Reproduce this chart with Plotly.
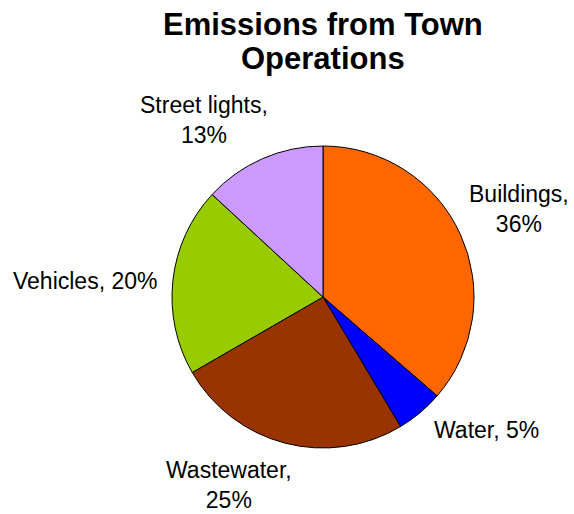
import plotly.graph_objects as go

# Share of emissions by source (percent)
categories = ["Buildings", "Water", "Wastewater", "Vehicles", "Street lights"]
shares = [36, 5, 25, 20, 13]
colors = ["#FF6600", "#0000FF", "#993300", "#99CC00", "#CC99FF"]
# two-line labels break after the comma
two_line = [True, False, True, False, True]
title_lines = ["Emissions from Town", "Operations"]

W, H = 574, 514
FONT = "Arial, Liberation Sans, sans-serif"

# pie placement in pixels (centre and radius)
cx, cy, r = 323, 297, 151

fig = go.Figure(go.Pie(
    labels=categories,
    values=shares,
    sort=False,
    direction="clockwise",
    rotation=0,
    marker=dict(colors=colors, line=dict(color="#000000", width=1)),
    textinfo="none",
    hoverinfo="label+percent",
    showlegend=False,
    domain=dict(x=[(cx - r) / W, (cx + r) / W],
                y=[1 - (cy + r) / H, 1 - (cy - r) / H]),
))

# label anchor points (pixel centres of each text block)
label_pos = [(519, 209), (486, 430), (229, 485), (85, 281), (204, 120)]

for name, val, brk, (px, py) in zip(categories, shares, two_line, label_pos):
    sep = ",<br>" if brk else ", "
    fig.add_annotation(
        x=px / W, y=1 - py / H, xref="paper", yref="paper",
        text=f"{name}{sep}{val}%", showarrow=False,
        xanchor="center", yanchor="middle", align="center",
        font=dict(family=FONT, size=23, color="#000000"),
    )

# chart heading, one annotation per line for tight line spacing
for line, py in zip(title_lines, [24, 58]):
    fig.add_annotation(
        x=cx / W, y=1 - py / H, xref="paper", yref="paper",
        text=f"<b>{line}</b>", showarrow=False,
        xanchor="center", yanchor="middle",
        font=dict(family=FONT, size=31, color="#000000"),
    )

fig.update_layout(
    width=W, height=H,
    margin=dict(l=0, r=0, t=0, b=0),
    paper_bgcolor="#FFFFFF",
    plot_bgcolor="#FFFFFF",
)

fig.write_html("out.html")
